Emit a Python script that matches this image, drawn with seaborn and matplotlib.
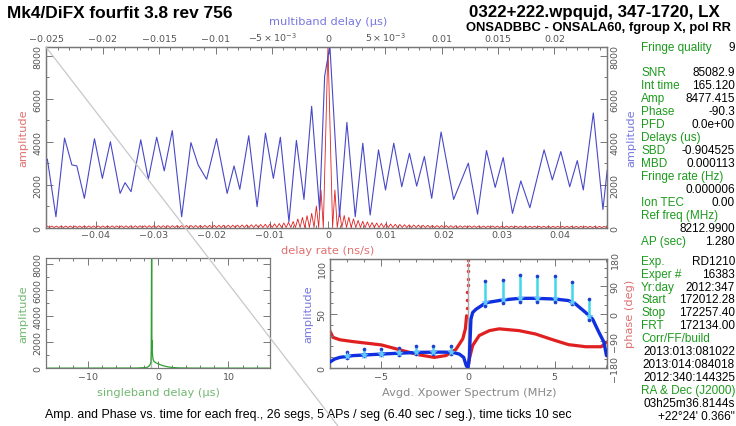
import numpy as np
import pandas as pd
import matplotlib
matplotlib.use("Agg")
import matplotlib.pyplot as plt
from matplotlib.ticker import MultipleLocator, FixedLocator, FixedFormatter, FuncFormatter
from matplotlib.lines import Line2D
import seaborn as sns

# ---------------- data ----------------
mbd_us = [-0.0249, -0.02414, -0.02338, -0.02273, -0.02229, -0.02162, -0.02073, -0.02003,
          -0.01932, -0.01846, -0.01802, -0.01749, -0.01663, -0.01596, -0.01522, -0.01455,
          -0.01384, -0.01301, -0.01219, -0.01155, -0.01080, -0.00992, -0.00898, -0.00837,
          -0.00786, -0.00707, -0.00633, -0.00559, -0.00489, -0.00427, -0.00351, -0.00285,
          -0.00218, -0.00150, -0.00080, -0.00035, 0.000113, 0.00097, 0.00162, 0.00236,
          0.00303, 0.00368, 0.00442, 0.00504, 0.00577, 0.00648, 0.00716, 0.00780, 0.00848,
          0.00913, 0.00996, 0.01107, 0.01237, 0.01319, 0.01398, 0.01475, 0.01546, 0.01628,
          0.01702, 0.01782, 0.01908, 0.01981, 0.02056, 0.02135, 0.02202, 0.02255, 0.02344,
          0.02429, 0.02467]
mbd_amp = [3190, 500, 4170, 2920, 2870, 1360, 4140, 2290,
           4000, 1590, 2090, 1670, 4090, 2250, 4210, 2640,
           4520, 500, 3960, 2920, 2250, 4140, 1590, 2870,
           1780, 4280, 970, 4400, 2290, 4210, 270, 4060,
           1310, 5650, 810, 7050, 8477, 500, 4900, 500,
           3930, 580, 3620, 1750, 3930, 1900, 3460, 1930, 3310,
           1360, 4450, 1310, 3000, 620, 3590, 1870, 3260, 660,
           2170, 920, 3620, 2220, 3540, 1900, 3120, 1750, 5340,
           840, 2680]

rate_step = 0.0008
rate_peak_x = 0.000006
rate_peak_amp = 8477.415
rate_left_lobes = [1750, 1000, 660, 550, 470, 400, 280, 240, 210, 185, 170, 160, 150, 140, 135,
                   130, 125, 120, 115, 110, 108, 105, 102, 100, 100, 98, 96, 95, 94, 92, 90, 90,
                   88, 88, 86, 85, 85, 84, 82, 80, 80, 80, 78, 78, 76, 76, 75, 75, 74, 74, 72,
                   72, 70, 70, 70, 68, 68, 66, 66, 65]
rate_right_lobes = [1750, 730, 560, 480, 400, 330, 290, 260, 230, 210, 190, 175, 160, 150, 140,
                    132, 125, 118, 112, 106, 100, 96, 92, 90, 88, 85, 82, 80, 78, 76, 75, 74,
                    72, 70, 70, 68, 68, 66, 66, 65, 64, 63, 62, 62, 60, 60, 60, 58, 58, 58, 56,
                    56, 56, 55, 55, 55, 54, 54, 53, 52]

sbd_us = [-16, -3, -1.6, -1.3, -1.1, -1.0, -0.95, -0.9045, -0.87, -0.84, -0.8, -0.75, -0.7,
          -0.6, -0.5, -0.3, 0.0, 0.3, 0.6, 1.0, 1.5, 2.0, 3.0, 5.0, 16]
sbd_amp = [10, 20, 60, 150, 300, 500, 1500, 8477, 1600, 2100, 1200, 900, 700,
           550, 500, 420, 350, 280, 220, 160, 100, 60, 30, 15, 10]

xp_mhz = [-8.0, -7.7, -7.4, -6.65, -5.0, -4.0, -2.8, -1.5, -0.88, -0.5, -0.25, -0.1, 0.0,
          0.08, 0.17, 0.27, 0.46, 1.04, 2.0, 2.96, 3.9, 5.0, 5.8, 6.2, 6.8, 7.2, 7.56, 7.85, 8.0]
xp_amp = [5.5, 8.5, 10, 11.6, 13, 13.8, 14.6, 14.8, 14.6, 13, 10, 2.4, 0.5,
          10, 45, 51, 54, 60, 62.5, 64, 64, 63.4, 62, 59, 51, 45, 33, 24, 11.6]

ph_mhz_a = [-8.0, -7.8, -7.4, -6.65, -5.0, -3.75, -2.8, -1.94, -1.27, -0.7, -0.3, -0.15, -0.08]
ph_deg_a = [-54, -78, -86, -92, -103, -122, -136, -144, -138, -118, -83, -50, -7]
ph_mhz_jump = [-0.06, -0.045, -0.035, -0.025, -0.018, -0.012, -0.006, 0.0]
ph_deg_jump = [20, 45, 70, 95, 115, 140, 160, 178]
ph_mhz_b = [0.02, 0.08, 0.27, 0.65, 1.23, 1.8, 2.96, 3.9, 4.9, 5.8, 6.8, 7.7, 8.0]
ph_deg_b = [-171, -149, -105, -72, -56, -50, -56, -67, -86, -102, -109, -109, -94]

seg_mhz = [-7, -6, -5, -4, -3, -2, -1, 1, 2, 3, 4, 5, 6, 7]
seg_lo = [9, 11, 12, 12, 13, 13, 13, 57, 60, 61, 61, 61, 59, 44]
seg_mid = [11, 12.5, 13.5, 14, 14.5, 14.6, 14.6, 61, 63, 64, 64, 64, 61, 48]
seg_hi = [15, 17.5, 17.5, 19, 20.5, 20.5, 20.5, 80, 81, 85, 84, 84, 78.5, 63]

title_left = "Mk4/DiFX fourfit 3.8 rev 756"
title_right1 = "0322+222.wpqujd, 347-1720, LX"
title_right2 = "ONSADBBC - ONSALA60, fgroup X, pol RR"
caption = ("Amp. and Phase vs. time for each freq., 26 segs, 5 APs / seg (6.40 sec / seg.), "
           "time ticks 10 sec")

info_block1 = [("Fringe quality", "9"), None,
               ("SNR", "85082.9"), ("Int time", "165.120"), ("Amp", "8477.415"),
               ("Phase", "-90.3"), ("PFD", "0.0e+00"), ("Delays (us)", ""),
               ("SBD", "-0.904525"), ("MBD", "0.000113"), ("Fringe rate (Hz)", ""),
               ("", "0.000006"), ("Ion TEC", "0.00"), ("Ref freq (MHz)", ""),
               ("", "8212.9900"), ("AP (sec)", "1.280")]
info_block2 = [("Exp.", "RD1210"), ("Exper #", "16383"), ("Yr:day", "2012:347"),
               ("Start", "172012.28"), ("Stop", "172257.40"), ("FRT", "172134.00"),
               ("Corr/FF/build", ""), ("", "2013:013:081022"), ("", "2013:014:084018"),
               ("", "2012:340:144325"), ("RA & Dec (J2000)", ""), ("", "03h25m36.8144s"),
               ("", "+22\u00b024' 0.366\"")]

# ---------------- build series ----------------
rate_x, rate_y = [], []
for k in range(len(rate_left_lobes), 0, -1):
    rate_x += [-(k + 0.5) * rate_step, -k * rate_step]
    rate_y += [rate_left_lobes[k - 1], 0]
rate_x.append(rate_peak_x)
rate_y.append(rate_peak_amp)
for k in range(1, len(rate_right_lobes) + 1):
    rate_x += [k * rate_step, (k + 0.5) * rate_step]
    rate_y += [0, rate_right_lobes[k - 1]]
df_rate = pd.DataFrame({"rate": rate_x, "amp": rate_y})
df_mbd = pd.DataFrame({"mbd": mbd_us, "amp": mbd_amp})
df_sbd = pd.DataFrame({"sbd": sbd_us, "amp": sbd_amp})

# ---------------- style ----------------
sns.set_style("ticks")
plt.rcParams["font.family"] = ["DejaVu Sans"]
W, H = 736, 427
fig = plt.figure(figsize=(W / 100, H / 100), dpi=100)

def rect(x0, y0, x1, y1):
    return [x0 / W, 1 - y1 / H, (x1 - x0) / W, (y1 - y0) / H]

def fpos(x, y):
    return x / W, 1 - y / H

RED = "#e02020"
BLUE = "#4848c8"
GREEN = "#30a030"
LRED = "#e07070"
LBLUE = "#7878e0"
LGREEN = "#70b870"
TICKC = "#777777"
LABC = "#555555"
TXTGREEN = "#1c9a1c"

def style_axes(ax):
    for s in ax.spines.values():
        s.set_color(TICKC)
        s.set_linewidth(0.9)
    ax.tick_params(which="both", direction="in", color=TICKC, labelcolor=LABC,
                   labelsize=6.8, width=0.7, pad=2.5)
    ax.tick_params(which="major", length=5)
    ax.tick_params(which="minor", length=2.5)
    ax.set_xlabel("")
    ax.set_ylabel("")

num_fmt = FuncFormatter(lambda v, p: "0" if abs(v) < 1e-12 else ("%g" % v).replace("-", "\u2212"))

# ---------------- main plot ----------------
ax = fig.add_axes(rect(46, 47.5, 607, 228.5))
sns.lineplot(data=df_rate, x="rate", y="amp", ax=ax, color=RED, lw=0.6,
             estimator=None, sort=False)
ax.set_xlim(-0.0486, 0.0481)
ax.set_ylim(0, 8440)
ax_top = ax.twiny()
sns.lineplot(data=df_mbd, x="mbd", y="amp", ax=ax_top, color=BLUE, lw=0.8,
             estimator=None, sort=False)
ax_top.set_xlim(-0.02502, 0.02465)
ax_top.set_ylim(0, 8440)
style_axes(ax)
style_axes(ax_top)
ax.xaxis.set_major_locator(MultipleLocator(0.01))
ax.xaxis.set_minor_locator(MultipleLocator(0.002))
ax.xaxis.set_major_formatter(num_fmt)
ax.yaxis.set_major_locator(MultipleLocator(2000))
ax.yaxis.set_minor_locator(MultipleLocator(1000))
ax.yaxis.set_major_formatter(num_fmt)
ax.tick_params(axis="y", which="both", left=True, right=True, labelleft=True, labelright=True)
ax.tick_params(axis="x", which="both", bottom=True, top=False, pad=2)
top_ticks = [-0.025, -0.02, -0.015, -0.01, -0.005, 0, 0.005, 0.01, 0.015, 0.02]
top_labels = ["\u22120.025", "\u22120.02", "\u22120.015", "\u22120.01", r"$-5\times10^{-3}$",
              "0", r"$5\times10^{-3}$", "0.01", "0.015", "0.02"]
ax_top.xaxis.set_major_locator(FixedLocator(top_ticks))
ax_top.xaxis.set_major_formatter(FixedFormatter(top_labels))
ax_top.xaxis.set_minor_locator(MultipleLocator(0.001))
ax_top.tick_params(axis="x", which="both", top=True, bottom=False, labeltop=True,
                   labelbottom=False)
ax.yaxis.set_tick_params(which="major", labelrotation=90)

# ---------------- singleband delay plot ----------------
ax2 = fig.add_axes(rect(46, 259, 270, 369.3))
ax2.axvline(-0.93, color="#bbbbbb", lw=1.0, zorder=1)
sns.lineplot(data=df_sbd, x="sbd", y="amp", ax=ax2, color=GREEN, lw=0.9,
             estimator=None, sort=False)
ax2.set_xlim(-15.9, 15.9)
ax2.set_ylim(0, 8430)
style_axes(ax2)
ax2.xaxis.set_major_locator(MultipleLocator(10))
ax2.xaxis.set_minor_locator(MultipleLocator(2))
ax2.xaxis.set_major_formatter(num_fmt)
ax2.yaxis.set_major_locator(MultipleLocator(2000))
ax2.yaxis.set_minor_locator(MultipleLocator(1000))
ax2.yaxis.set_major_formatter(num_fmt)
ax2.tick_params(which="both", top=True, right=True)
ax2.yaxis.set_tick_params(which="major", labelrotation=90)

# ---------------- cross-power spectrum ----------------
ax3 = fig.add_axes(rect(330, 260, 607, 369.3))
ax3.axvline(0, color="#aaaaaa", lw=1.0, zorder=1)
ax3p = ax3.twinx()
sns.lineplot(x=ph_mhz_a, y=ph_deg_a, ax=ax3p, color=RED, lw=2.3, estimator=None, sort=False)
sns.lineplot(x=ph_mhz_b, y=ph_deg_b, ax=ax3p, color=RED, lw=2.3, estimator=None, sort=False)
sns.scatterplot(x=ph_mhz_jump, y=ph_deg_jump, ax=ax3p, color=RED, s=6, linewidth=0)
ax3p.set_ylim(-180, 180)
sns.lineplot(x=xp_mhz, y=xp_amp, ax=ax3, color="#1030e0", lw=2.4, estimator=None, sort=False,
             zorder=3)
ax3.vlines(seg_mhz, seg_lo, seg_hi, color="#40d8e8", lw=1.8, zorder=4)
sns.scatterplot(x=seg_mhz, y=seg_hi, ax=ax3, color="#2040d0", s=7, linewidth=0, zorder=5)
sns.scatterplot(x=seg_mhz, y=seg_lo, ax=ax3, color="#2040d0", s=7, linewidth=0, zorder=5)
sns.scatterplot(x=seg_mhz, y=seg_mid, ax=ax3, color="#60c8ff", s=40, marker="*",
                linewidth=0, zorder=6)
ax3.set_zorder(ax3p.get_zorder() + 1)
ax3.patch.set_visible(False)
ax3.set_xlim(-7.97, 8.03)
ax3.set_ylim(0, 100)
style_axes(ax3)
style_axes(ax3p)
ax3.xaxis.set_major_locator(MultipleLocator(5))
ax3.xaxis.set_minor_locator(MultipleLocator(1))
ax3.xaxis.set_major_formatter(num_fmt)
ax3.yaxis.set_major_locator(MultipleLocator(50))
ax3.yaxis.set_minor_locator(MultipleLocator(10))
ax3.tick_params(which="both", top=True)
ax3.tick_params(axis="y", which="both", right=False)
ax3p.yaxis.set_major_locator(MultipleLocator(90))
ax3p.yaxis.set_minor_locator(MultipleLocator(30))
ax3p.yaxis.set_major_formatter(num_fmt)
ax3.yaxis.set_tick_params(which="major", labelrotation=90)
ax3p.yaxis.set_tick_params(which="major", labelrotation=90)

fig.canvas.draw()
for a in (ax, ax2, ax3, ax3p):
    for lab in a.get_yticklabels():
        lab.set_va("center")
for lab in ax3.get_yticklabels():
    if lab.get_text() == "100":
        lab.set_va("top")

# ---------------- axis labels ----------------
lab_kw = dict(fontsize=8.2, ha="center", va="center")
fig.text(*fpos(328, 22), "multiband delay (\u03bcs)", color=LBLUE, **lab_kw)
fig.text(*fpos(328, 251), "delay rate (ns/s)", color=LRED, **lab_kw)
fig.text(*fpos(23, 138), "amplitude", color=LRED, rotation=90, **lab_kw)
fig.text(*fpos(631, 138), "amplitude", color=LBLUE, rotation=90, **lab_kw)
fig.text(*fpos(23, 314), "amplitude", color=LGREEN, rotation=90, **lab_kw)
fig.text(*fpos(158, 393), "singleband delay (\u03bcs)", color=LGREEN, **lab_kw)
fig.text(*fpos(308, 314), "amplitude", color=LBLUE, rotation=90, **lab_kw)
fig.text(*fpos(630, 314), "phase (deg)", color=LRED, rotation=90, **lab_kw)
fig.text(*fpos(469, 393), "Avgd. Xpower Spectrum (MHz)", color="#888888", **lab_kw)

# ---------------- titles and caption ----------------
fig.text(*fpos(7, 13), title_left, fontsize=12.4, fontweight="bold", family="Liberation Sans",
         ha="left", va="center", color="black")
fig.text(*fpos(720, 12), title_right1, fontsize=12.2, fontweight="bold",
         family="Liberation Sans", ha="right", va="center", color="black")
fig.text(*fpos(731, 28), title_right2, fontsize=9.4, fontweight="bold",
         family="Liberation Sans", ha="right", va="center", color="black")
fig.text(*fpos(45, 415), caption, fontsize=8.9, family="Liberation Sans", ha="left",
         va="center", color="black")

# ---------------- info panel ----------------
info_kw = dict(fontsize=8.5, family="Liberation Sans", va="center")
def draw_info(rows, y0, step):
    y = y0
    for row in rows:
        if row is not None:
            label, value = row
            if label:
                fig.text(*fpos(641, y), label, color=TXTGREEN, ha="left", **info_kw)
            if value:
                fig.text(*fpos(735, y), value, color="black", ha="right", **info_kw)
        y += step

draw_info(info_block1[:1], 48.3, 12.96)
draw_info(info_block1[2:], 73.3, 12.96)
draw_info(info_block2, 261.7, 12.92)

# ---------------- diagonal guide line ----------------
fig.add_artist(Line2D([46 / W, 338 / W], [1 - 48 / H, 0.0], color="#c8c8c8", lw=0.9,
                      transform=fig.transFigure, zorder=10))

fig.savefig("out.png", dpi=100)
